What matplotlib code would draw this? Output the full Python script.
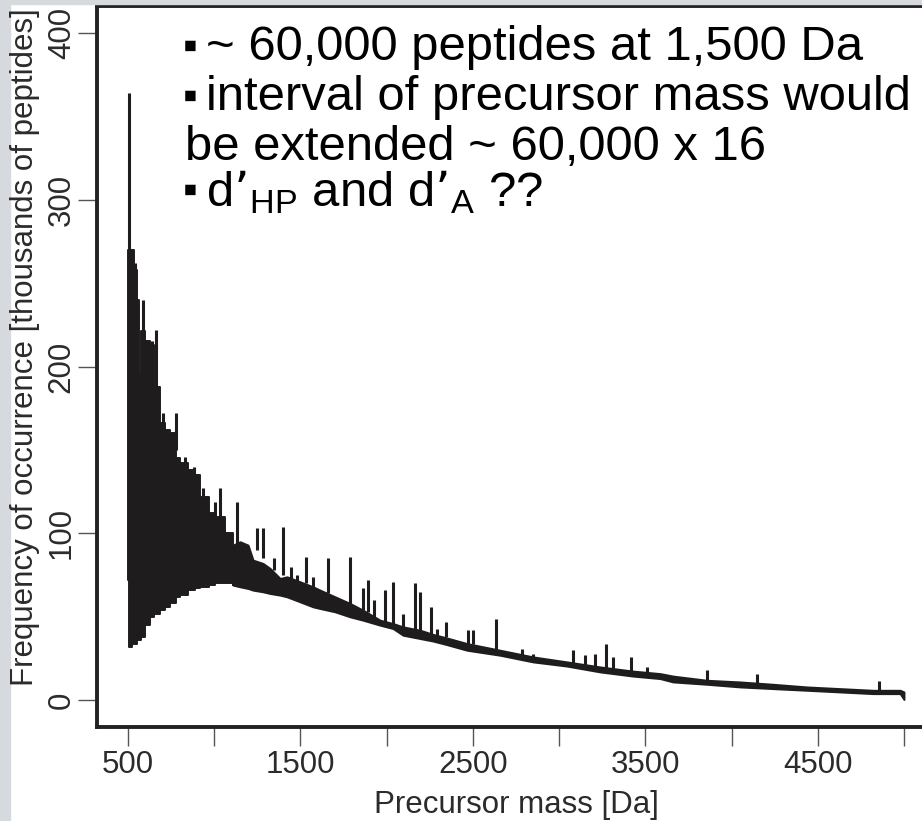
import matplotlib
matplotlib.use("Agg")
import matplotlib.pyplot as plt
from matplotlib.patches import Rectangle

plt.rcParams['font.family'] = ['Liberation Sans', 'DejaVu Sans']
plt.rcParams['mathtext.default'] = 'regular'

# dense band of the spectrum: mass [Da], lower and upper edge [thousands]
band_mass = [500, 503, 523, 535, 552, 565, 575, 600, 628, 650, 686, 715, 744,
             778, 802, 848, 889, 918, 970, 1005, 1063, 1109, 1150, 1196, 1225,
             1283, 1324, 1382, 1422, 1498, 1573, 1614, 1701, 1788, 1863, 1962,
             2037, 2095, 2194, 2269, 2344, 2466, 2658, 2849, 3046, 3238, 3429,
             3586, 3661, 3858, 4050, 4241, 4438, 4630, 4821, 4978, 5000]
band_lower = [72, 32, 34, 34, 36, 36, 38, 45, 50, 52, 54, 56, 58,
              62, 63, 66, 67, 68, 69, 70, 70, 69, 68, 67, 66,
              65, 64, 63, 62, 59, 56, 55, 53, 50, 48, 45,
              43, 39, 37, 35.5, 33.5, 30, 27, 23, 20.5, 17, 14.5,
              13, 11, 9.6, 8, 7, 6, 5, 4, 4, 0.5]
band_upper = [270, 270, 270, 258, 240, 196, 221, 215, 213, 188, 166, 162, 160,
              145, 142, 138, 135, 122, 112, 110, 100, 93, 95, 93, 84,
              82, 79, 73, 74, 71, 68, 66, 62, 58, 54, 48,
              46, 44, 42, 39.5, 37.5, 34, 30, 26, 23, 20, 17.5,
              16, 14.5, 12, 11, 9.6, 8, 7, 6, 6, 5]

# isolated peaks sticking out of the band
spike_mass = [506, 540, 587, 640, 662, 700, 778, 830, 880, 935, 960, 1005,
              1034, 1063, 1132, 1250, 1280, 1306, 1347, 1399, 1445, 1480,
              1532, 1573, 1660, 1788, 1863, 1892, 1927, 1991, 2037, 2095,
              2165, 2194, 2257, 2292, 2344, 2472, 2501, 2634, 2785, 2849,
              3081, 3151, 3209, 3272, 3313, 3417, 3510, 3858, 4148, 4856]
spike_top = [364, 262, 240, 215, 222, 172, 172, 146, 140, 127, 118, 119,
             127, 101, 119, 103, 103, 80, 85, 104, 80, 75,
             86, 74, 85, 86, 67, 72, 60, 66, 71, 52,
             70, 65, 56, 43, 47, 42, 42, 49, 31, 28,
             30, 27, 28, 34, 26, 26, 20, 18, 15.5, 11.4]
spike_base = [270, 230, 210, 190, 188, 160, 150, 138, 130, 115, 110, 108,
              100, 93, 93, 90, 85, 76, 78, 75, 73, 70,
              70, 66, 64, 57, 54, 53, 50, 47, 46, 44,
              42, 42, 40, 38, 38, 34, 34, 31, 26, 25,
              22, 21, 20, 19, 19, 17.5, 15, 12, 10, 6]

x_ticks = [500, 1000, 1500, 2000, 2500, 3000, 3500, 4000, 4500, 5000]
x_labels = ['500', '', '1500', '', '2500', '', '3500', '', '4500', '']
y_ticks = [0, 100, 200, 300, 400]

ink = '#1e1c1d'
W, H = 922, 821
fig = plt.figure(figsize=(W / 100, H / 100), dpi=100)
fig.patch.set_facecolor('white')

# slide background showing at the edges
fig.patches.append(Rectangle((0, 0), 10 / W, 1, transform=fig.transFigure,
                             color='#d6dade', zorder=0))
fig.patches.append(Rectangle((0, 1 - 4 / H), 1, 4 / H, transform=fig.transFigure,
                             color='#d6dade', zorder=0))

ax = fig.add_axes([97 / W, 94 / H, 838 / W, 721 / H])
# steppy low-mass part, smooth tail
k = band_mass.index(1109) + 1
ax.fill_between(band_mass[:k], band_lower[:k], band_upper[:k], step='post',
                color=ink, lw=1.4)
ax.fill_between(band_mass[k - 1:], band_lower[k - 1:], band_upper[k - 1:],
                color=ink, lw=1.4)
ax.vlines(spike_mass, spike_base, spike_top, color=ink, lw=2.2)

ax.set_xlim(320, 5180)
ax.set_ylim(-16, 416)
ax.set_xticks(x_ticks)
ax.set_xticklabels(x_labels)
ax.set_yticks(y_ticks)
ax.set_yticklabels([str(v) for v in y_ticks], rotation=90, va='center')
ax.tick_params(axis='both', direction='out', length=13.5, width=1.0,
               color='#555555', labelsize=22.5, labelcolor='#2b2b2b')
ax.tick_params(axis='x', pad=3)
ax.tick_params(axis='y', pad=1)
for s in ax.spines.values():
    s.set_linewidth(2.8)
    s.set_color('#222222')

fig.text(516 / W, 1 - 805 / H, 'Precursor mass [Da]', ha='center', va='center',
         fontsize=22.5, color='#2b2b2b')
fig.text(25 / W, 1 - 347 / H, 'Frequency of occurrence [thousands of peptides]',
         ha='center', va='center', rotation=90, fontsize=22.5, color='#2b2b2b')

# slide notes on top of the chart
lines = [
    (48, True, '~ 60,000 peptides at 1,500 Da'),
    (98, True, 'interval of precursor mass would'),
    (148, False, 'be extended ~ 60,000 x 16'),
    (192, True, 'd’$_{HP}$ and d’$_{A}$ ??'),
]
for y, bullet, txt in lines:
    if bullet:
        fig.text(190 / W, 1 - y / H, '\u25aa', ha='center', va='center',
                 fontsize=30, color='black')
        fig.text(206 / W, 1 - y / H, txt, ha='left', va='center',
                 fontsize=35.3, color='black')
    else:
        fig.text(185 / W, 1 - y / H, txt, ha='left', va='center',
                 fontsize=35.3, color='black')

fig.savefig('out.png', dpi=100)
